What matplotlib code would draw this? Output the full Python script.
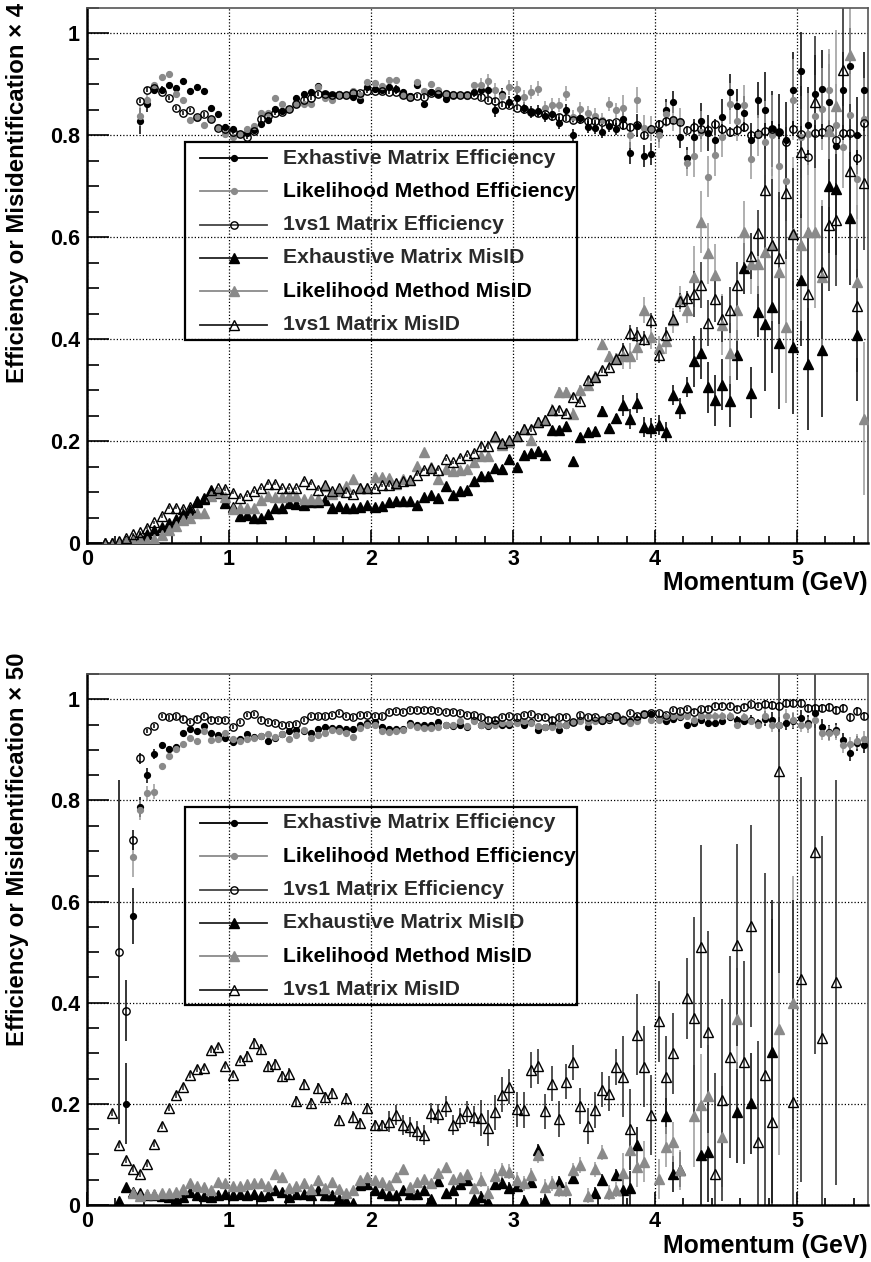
import numpy as np
import matplotlib
matplotlib.use("Agg")
import matplotlib.pyplot as plt
from matplotlib.lines import Line2D
from matplotlib.patches import Rectangle
from matplotlib.ticker import MultipleLocator, FuncFormatter

plt.rcParams['font.family'] = ['Liberation Sans', 'DejaVu Sans']
plt.rcParams['font.weight'] = 'bold'

nan = np.nan

# momentum bins, 0.05 GeV wide, 0 - 5.5 GeV
momentum = np.round(np.arange(110) * 0.05 + 0.025, 3)

# ---------------- top panel (misidentification x 4) ----------------
top_exh_eff = [nan] * 7 + [
    0.828, 0.861, 0.890, 0.890, 0.898, 0.893, 0.907, 0.887, 0.895, 0.887,
    0.854, 0.841, 0.816, 0.813, 0.803, 0.804, 0.810, 0.822, 0.830, 0.852,
    0.848, 0.852, 0.874, 0.882, 0.885, 0.896, 0.882, 0.880, 0.882, 0.879,
    0.875, 0.870, 0.894, 0.892, 0.890, 0.894, 0.892, 0.885, 0.877, 0.898,
    0.861, 0.885, 0.882, 0.872, 0.880, 0.879, 0.879, 0.885] + [
    0.890, 0.890, 0.849, 0.881, 0.866, 0.874, 0.854, 0.846, 0.848, 0.839,
    0.841, 0.824, 0.850, 0.800, 0.835, 0.816, 0.815, 0.807, 0.818, 0.813,
    0.833, 0.765, 0.819, 0.759, 0.764, 0.809, 0.850, 0.866, 0.797, 0.756,
    0.797, 0.828, 0.805, 0.791, 0.836, 0.885, 0.857, 0.843, 0.790, 0.870,
    0.849, 0.813, 0.807, 0.790, 0.889, 0.927, 0.820, 0.882, 0.892, 0.866,
    0.780, 0.889, 0.936, 0.800, 0.889]
top_lik_eff = [nan] * 7 + [
    0.839, 0.870, 0.898, 0.915, 0.920, 0.882, 0.870, 0.831, 0.835, 0.820,
    0.833, 0.816, 0.803, 0.797, 0.803, 0.813, 0.818, 0.844, 0.844, 0.874,
    0.861, 0.852, 0.861, 0.861, 0.861, 0.894, 0.874, 0.869, 0.882, 0.880,
    0.887, 0.879, 0.905, 0.903, 0.896, 0.908, 0.908, 0.879, 0.874, 0.905,
    0.887, 0.900, 0.889, 0.883, 0.882, 0.879, 0.877, 0.898] + [
    0.898, 0.907, 0.889, 0.877, 0.894, 0.892, 0.875, 0.885, 0.892, 0.854,
    0.859, 0.859, 0.882, 0.836, 0.852, 0.843, 0.839, 0.830, 0.861, 0.849,
    0.854, 0.800, 0.869, 0.815, 0.813, 0.800, 0.841, 0.833, 0.828, 0.746,
    0.759, 0.807, 0.719, 0.761, 0.797, 0.862, 0.828, 0.859, 0.754, 0.800,
    0.787, 0.800, 0.739, 0.711, 0.870, 0.797, 0.803, 0.838, 0.852, 0.889,
    0.820, 0.777, 0.840, 0.715, 0.833]
top_1v1_eff = [nan] * 7 + [
    0.868, 0.890, 0.893, 0.885, 0.874, 0.854, 0.844, 0.849, 0.836, 0.841,
    0.833, 0.815, 0.813, 0.807, 0.802, 0.797, 0.809, 0.833, 0.839, 0.844,
    0.846, 0.852, 0.861, 0.870, 0.874, 0.882, 0.882, 0.880, 0.880, 0.880,
    0.883, 0.883, 0.887, 0.887, 0.887, 0.885, 0.885, 0.880, 0.875, 0.878,
    0.875, 0.883, 0.882, 0.882, 0.880, 0.880, 0.880, 0.880] + [
    0.875, 0.870, 0.868, 0.860, 0.859, 0.854, 0.852, 0.846, 0.843, 0.841,
    0.839, 0.836, 0.834, 0.831, 0.833, 0.828, 0.828, 0.826, 0.824, 0.826,
    0.820, 0.816, 0.820, 0.800, 0.813, 0.823, 0.828, 0.830, 0.826, 0.811,
    0.817, 0.813, 0.810, 0.822, 0.813, 0.807, 0.811, 0.817, 0.800, 0.802,
    0.809, 0.813, 0.807, 0.787, 0.813, 0.803, 0.757, 0.805, 0.807, 0.813,
    0.791, 0.805, 0.805, 0.756, 0.824]

top_exh_mis = [nan] * 2 + [
    0.0, 0.0, 0.002, 0.004, 0.008, 0.012, 0.018, 0.025, 0.032, 0.040,
    0.048, 0.056, 0.065, 0.081, 0.087, 0.102, 0.098, 0.079, 0.070, 0.053,
    0.054, 0.050, 0.050, 0.056, 0.069, 0.069, 0.078, 0.076, 0.075, 0.080,
    0.081, 0.084] + [
    0.069, 0.072, 0.069, 0.069, 0.070, 0.075, 0.070, 0.072, 0.080, 0.083,
    0.083, 0.083, 0.074, 0.090, 0.094, 0.088, 0.111, 0.094, 0.103, 0.105,
    0.122] + [
    0.131, 0.131, 0.147, 0.146, 0.164, 0.149, 0.172, 0.177, 0.180, 0.173,
    0.221, 0.221, 0.230, 0.160, 0.208, 0.218, 0.219, 0.260, 0.226, 0.245,
    0.270, 0.243, 0.275, 0.228, 0.226, 0.232, 0.218, 0.291, 0.264, 0.306,
    0.357, 0.372, 0.306, 0.280, 0.311, 0.278, 0.369, 0.539, 0.295, 0.454,
    0.429, 0.464, 0.393, nan, 0.384, 0.516, 0.351, nan, 0.378, 0.700,
    0.695, nan, 0.637, 0.408, nan]
top_lik_mis = [nan] * 2 + [
    0.0, 0.0, 0.0, 0.001, 0.003, 0.005, 0.003, 0.008, 0.016, 0.026,
    0.034, 0.046, 0.050, 0.058, 0.059, 0.092, 0.100, 0.091, 0.066, 0.069,
    0.069, 0.069, 0.084, 0.092, 0.090, 0.091, 0.092, 0.092, 0.087, 0.086,
    0.087, 0.111] + [
    0.097, 0.103, 0.112, 0.125, 0.108, 0.108, 0.129, 0.129, 0.127, 0.116,
    0.126, 0.123, 0.151, 0.178, 0.149, 0.125, 0.146, 0.141, 0.143, 0.146,
    0.158, 0.171, 0.171, 0.208, 0.193, 0.199, 0.210, 0.224, 0.203, 0.237,
    0.242] + [
    0.262, 0.296, 0.296, 0.254, 0.300, 0.310, 0.328, 0.391, 0.367, 0.363,
    0.367, 0.367, 0.385, 0.457, 0.405, 0.382, 0.396, 0.437, 0.479, 0.457,
    0.523, 0.630, 0.569, 0.526, 0.428, 0.372, 0.457, 0.611, 0.548, 0.548,
    0.572, 0.585, 0.532, 0.424, 0.608, 0.585, 0.611, 0.611, 0.523, 0.809,
    0.857, nan, 0.957, 0.513, 0.244]
top_1v1_mis = [nan] * 2 + [
    0.0, 0.0, 0.004, 0.010, 0.017, 0.021, 0.030, 0.041, 0.053, 0.069,
    0.069, 0.067, 0.071, 0.082, 0.089, 0.104, 0.107, 0.106, 0.099, 0.089,
    0.094, 0.102, 0.107, 0.116, 0.116, 0.107, 0.107, 0.107, 0.122, 0.116,
    0.105, 0.114] + [
    0.103, 0.108, 0.100, 0.097, 0.107, 0.107, 0.107, 0.113, 0.113, 0.118,
    0.121, 0.123, 0.134, 0.144, 0.147, 0.144, 0.164, 0.158, 0.167, 0.172,
    0.177, 0.191, 0.190, 0.210, 0.197, 0.203, 0.210, 0.224, 0.223, 0.237,
    0.242] + [
    0.262, 0.262, 0.256, 0.287, 0.278, 0.319, 0.326, 0.339, 0.345, 0.361,
    0.378, 0.413, 0.409, 0.401, 0.437, 0.369, 0.408, 0.440, 0.475, 0.480,
    0.488, 0.506, 0.431, 0.479, 0.440, 0.457, 0.506, nan, 0.564, 0.608,
    0.693, 0.585, 0.559, 0.687, 0.606, 0.767, 0.488, 0.866, 0.531, 0.624,
    0.634, 0.928, 0.731, 0.466, 0.706]

top_exh_eff_err = [0.006] * 7 + [0.025, 0.015] + [0.006] * 46 + [0.012] * 20 + [0.022] * 10 + [0.035] * 10 + [0.075] * 15
top_lik_eff_err = [0.006] * 7 + [0.02, 0.012] + [0.006] * 46 + [0.014] * 20 + [0.025] * 10 + [0.04] * 10 + [0.08] * 15
top_1v1_eff_err = [0.004] * 55 + [0.005] * 20 + [0.007] * 10 + [0.01] * 10 + [0.015] * 15
top_exh_mis_err = [0.004] * 55 + [0.008] * 20 + [0.02] * 10 + [0.05] * 10 + [0.13] * 15
top_lik_mis_err = [0.004] * 55 + [0.01] * 20 + [0.025] * 10 + [0.06] * 10 + [0.15] * 15
top_1v1_mis_err = [0.003] * 55 + [0.006] * 20 + [0.015] * 10 + [0.045] * 10 + [0.13] * 15

# ---------------- bottom panel (misidentification x 50) ----------------
bot_exh_eff = [nan] * 5 + [0.200, 0.571, 0.787] + [
    0.850, 0.892, 0.910, 0.902, 0.906, 0.933, 0.941, 0.937, 0.947, 0.933,
    0.929, 0.924, 0.916, 0.922, 0.931, 0.926, 0.927, 0.917, 0.924, 0.931,
    0.937, 0.939, 0.937, 0.934, 0.942, 0.946, 0.944, 0.944, 0.942, 0.942,
    0.949, 0.953, 0.955, 0.946, 0.942, 0.941, 0.942, 0.954, 0.950, 0.950,
    0.950, 0.955, 0.950, 0.947, 0.950, 0.946, 0.960] + [
    0.950, 0.948, 0.954, 0.950, 0.950, 0.955, 0.950, 0.955, 0.939, 0.946,
    0.950, 0.939, 0.950, 0.955, 0.960, 0.946, 0.959, 0.957, 0.959, 0.965,
    0.960, 0.957, 0.962, 0.970, 0.970, 0.962, 0.957, 0.962, 0.964, 0.950,
    0.954, 0.960, 0.954, 0.954, 0.957, 0.965, 0.959, 0.957, 0.960, 0.954,
    0.962, 0.960, 0.950, 0.954, 0.957, 0.963, 0.954, 0.972, 0.946, 0.935,
    0.939, 0.919, 0.893, 0.913, 0.909]
bot_lik_eff = [nan] * 6 + [0.688, 0.781] + [
    0.814, 0.817, 0.868, 0.888, 0.902, 0.911, 0.924, 0.917, 0.937, 0.919,
    0.921, 0.933, 0.922, 0.917, 0.922, 0.924, 0.927, 0.931, 0.926, 0.931,
    0.921, 0.929, 0.939, 0.924, 0.929, 0.934, 0.939, 0.937, 0.933, 0.926,
    0.944, 0.949, 0.949, 0.937, 0.935, 0.937, 0.939, 0.950, 0.946, 0.944,
    0.944, 0.946, 0.950, 0.950, 0.957, 0.948, 0.957] + [
    0.949, 0.949, 0.949, 0.954, 0.954, 0.954, 0.957, 0.954, 0.947, 0.946,
    0.946, 0.950, 0.950, 0.955, 0.957, 0.955, 0.957, 0.959, 0.962, 0.966,
    0.962, 0.954, 0.957, 0.968, 0.960, 0.960, 0.964, 0.966, 0.966, 0.966,
    0.959, 0.966, 0.966, 0.966, 0.966, 0.967, 0.950, 0.964, 0.957, 0.950,
    0.966, 0.950, 0.950, 0.966, 0.959, 0.950, 0.949, 0.959, 0.934, 0.933,
    0.935, 0.909, 0.911, 0.917, 0.922]
bot_1v1_eff = [nan] * 4 + [0.500, 0.384, 0.721, 0.883] + [
    0.937, 0.947, 0.967, 0.964, 0.966, 0.962, 0.955, 0.962, 0.967, 0.960,
    0.959, 0.959, 0.946, 0.955, 0.968, 0.970, 0.960, 0.955, 0.954, 0.949,
    0.949, 0.952, 0.959, 0.967, 0.966, 0.966, 0.968, 0.972, 0.967, 0.964,
    0.968, 0.968, 0.967, 0.966, 0.975, 0.977, 0.975, 0.978, 0.978, 0.978,
    0.978, 0.977, 0.975, 0.974, 0.972, 0.968, 0.968] + [
    0.964, 0.960, 0.960, 0.965, 0.967, 0.964, 0.968, 0.970, 0.965, 0.965,
    0.960, 0.964, 0.965, 0.955, 0.968, 0.965, 0.965, 0.960, 0.965, 0.967,
    0.960, 0.972, 0.967, 0.970, 0.972, 0.972, 0.968, 0.979, 0.977, 0.980,
    0.975, 0.980, 0.981, 0.987, 0.987, 0.987, 0.981, 0.985, 0.990, 0.987,
    0.990, 0.988, 0.987, 0.992, 0.993, 0.992, 0.983, 0.983, 0.983, 0.985,
    0.979, 0.983, 0.964, 0.977, 0.967]

bot_exh_mis = [nan] * 4 + [
    0.008, 0.036, 0.025, 0.023, 0.020, 0.020, 0.018, 0.015, 0.012, 0.015,
    0.025, 0.019, 0.018, 0.015, 0.019, 0.022, 0.019, 0.022, 0.020, 0.021,
    0.018, 0.019, 0.029, 0.025, 0.015, 0.021, 0.021, 0.020, 0.029, 0.019,
    0.020, 0.012, 0.008, 0.004, 0.040, 0.042, 0.029, 0.023, 0.020, 0.019,
    0.029, 0.022, 0.022, 0.029, 0.012, 0.048, 0.023, 0.029, 0.042, 0.049,
    0.011] + [
    0.015, 0.005, 0.041, 0.043, 0.033, 0.038, 0.008, 0.045, 0.109, 0.010,
    nan, 0.046, nan, 0.053, nan, nan, 0.023, 0.050, nan, 0.059,
    0.030, 0.033, 0.119, nan, nan, nan, 0.176, 0.061, 0.070, nan,
    nan, 0.099, 0.105, nan, nan, nan, 0.183, nan, 0.201, nan,
    nan, 0.303, nan, nan, nan, nan, nan, nan, nan, nan,
    nan, nan, nan, nan, nan]
bot_lik_mis = [nan] * 6 + [
    0.023, 0.018, 0.021, 0.022, 0.023, 0.023, 0.026, 0.031, 0.043, 0.038,
    0.036, 0.029, 0.045, 0.044, 0.038, 0.038, 0.041, 0.044, 0.043, 0.038,
    0.061, 0.055, 0.034, 0.038, 0.043, 0.032, 0.049, 0.034, 0.045, 0.032,
    0.024, 0.029, 0.050, 0.055, 0.049, 0.046, 0.040, 0.055, 0.072, 0.036,
    0.046, 0.052, 0.043, 0.063, 0.076, 0.052, 0.055, 0.061, 0.034] + [
    0.050, 0.023, 0.057, 0.069, 0.066, 0.050, 0.043, 0.059, 0.099, 0.036,
    0.043, 0.030, 0.030, 0.069, 0.079, 0.018, 0.071, 0.103, 0.024, 0.030,
    0.063, 0.109, 0.076, 0.086, nan, 0.051, 0.115, 0.125, 0.069, nan,
    0.176, 0.198, 0.216, nan, 0.135, nan, 0.368, nan, nan, nan,
    nan, nan, 0.348, nan, 0.400, nan, nan, nan, nan, nan,
    nan, nan, nan, nan, nan]
bot_1v1_mis = [nan] * 3 + [
    0.182, 0.119, 0.089, 0.072, 0.062, 0.082, 0.121, 0.156, 0.192, 0.218,
    0.234, 0.257, 0.269, 0.271, 0.307, 0.312, 0.275, 0.257, 0.287, 0.295,
    0.320, 0.308, 0.275, 0.279, 0.255, 0.260, 0.206, 0.239, 0.202, 0.231,
    0.214, 0.222, 0.168, 0.211, 0.175, 0.163, 0.192, 0.158, 0.158, 0.165,
    0.178, 0.158, 0.155, 0.147, 0.139, 0.182, 0.180, 0.195, 0.158, 0.172,
    0.185, 0.175] + [
    0.172, 0.152, 0.183, 0.218, 0.234, 0.189, 0.188, 0.267, 0.274, 0.185,
    0.240, 0.170, 0.244, 0.282, 0.196, 0.156, 0.188, 0.228, 0.220, 0.273,
    0.254, 0.150, 0.337, 0.273, 0.178, 0.363, 0.254, 0.300, nan, 0.409,
    0.370, 0.511, 0.342, 0.062, 0.207, 0.292, 0.514, 0.282, 0.552, 0.124,
    0.257, 0.165, 0.858, nan, 0.203, 0.446, nan, 0.698, 0.330, nan,
    0.440, nan, nan, nan, nan]

bot_exh_eff_err = [0.005] * 5 + [0.08, 0.055, 0.02, 0.015, 0.01] + [0.005] * 65 + [0.006] * 10 + [0.008] * 10 + [0.015] * 15
bot_lik_eff_err = [0.005] * 6 + [0.04, 0.02, 0.015, 0.015] + [0.005] * 65 + [0.006] * 10 + [0.008] * 10 + [0.015] * 15
bot_1v1_eff_err = [0.004] * 4 + [0.34, 0.06, 0.02, 0.01] + [0.004] * 77 + [0.005] * 10 + [0.008] * 15
bot_exh_mis_err = [0.003] * 55 + [0.012] * 20 + [0.035] * 10 + [0.1] * 10 + [0.3] * 15
bot_lik_mis_err = [0.004] * 55 + [0.015] * 20 + [0.04] * 10 + [0.1] * 10 + [0.25] * 15
bot_1v1_mis_err = [0.006] * 22 + [0.01] * 20 + [0.02] * 13 + [0.035] * 20 + [0.08] * 10 + [0.2] * 10 + [0.4] * 15

legend_labels = ["Exhastive Matrix Efficiency", "Likelihood Method Efficiency",
                 "1vs1 Matrix Efficiency", "Exhaustive Matrix MisID",
                 "Likelihood Method MisID", "1vs1 Matrix MisID"]

GRAY = '#8a8a8a'
styles = [
    dict(marker='o', ms=4.2, mfc='black', mec='black', color='black', ecolor='black'),
    dict(marker='o', ms=4.2, mfc=GRAY, mec=GRAY, color=GRAY, ecolor='#9a9a9a'),
    dict(marker='o', ms=5.3, mfc='none', mec='black', color='#444444', ecolor='black'),
    dict(marker='^', ms=7.0, mfc='black', mec='black', color='#222222', ecolor='black'),
    dict(marker='^', ms=7.0, mfc=GRAY, mec=GRAY, color=GRAY, ecolor='#9a9a9a'),
    dict(marker='^', ms=7.0, mfc='none', mec='black', color='#222222', ecolor='#222222'),
]

W, H = 871, 1262
fig = plt.figure(figsize=(W / 100, H / 100), dpi=100)


def fx(px):
    return px / W


def fy(py):
    return 1 - py / H


def make_panel(top_px, bottom_px, series, errs, ylabel, ylabel_top, xlabel_y, legend_top):
    ax = fig.add_axes([fx(87), fy(bottom_px), fx(868) - fx(87), (bottom_px - top_px) / H])
    ax.set_xlim(0, 5.5)
    ax.set_ylim(0, 1.05)
    for vals, err, st in zip(series, errs, styles):
        assert len(vals) == 110 and len(err) == 110
        v = np.array(vals, dtype=float)
        e = np.array(err, dtype=float)
        ok = ~np.isnan(v)
        ax.errorbar(momentum[ok], v[ok], yerr=e[ok], fmt='none', ecolor=st['ecolor'],
                    elinewidth=1.1, capsize=0, zorder=2)
        ax.plot(momentum[ok], v[ok], ls='none', marker=st['marker'], ms=st['ms'],
                mfc=st['mfc'], mec=st['mec'], mew=1.0, zorder=3)
    ax.xaxis.set_major_locator(MultipleLocator(1))
    ax.xaxis.set_minor_locator(MultipleLocator(0.2))
    ax.yaxis.set_major_locator(MultipleLocator(0.2))
    ax.yaxis.set_minor_locator(MultipleLocator(0.05))
    fmt = FuncFormatter(lambda t, p: f"{t:g}")
    ax.xaxis.set_major_formatter(fmt)
    ax.yaxis.set_major_formatter(fmt)
    ax.tick_params(axis='x', which='major', direction='in', length=9.5, width=1.2, labelsize=15.5, pad=4)
    ax.tick_params(axis='x', which='minor', direction='in', length=5, width=1.2)
    ax.tick_params(axis='y', which='major', direction='in', length=16, width=1.2, labelsize=15.5, pad=5)
    ax.tick_params(axis='y', which='minor', direction='in', length=8.5, width=1.2)
    ax.tick_params(top=False, right=False, which='both')
    ax.grid(True, which='major', color='black', ls=(0, (1, 1.6)), lw=0.9)
    ax.spines['left'].set_linewidth(1.8)
    ax.spines['bottom'].set_linewidth(1.8)
    ax.spines['top'].set_linewidth(1.2)
    ax.spines['top'].set_color('#555555')
    ax.spines['right'].set_linewidth(1.2)
    ax.spines['right'].set_color('#555555')
    fig.text(fx(18), fy(ylabel_top), ylabel, rotation=90, ha='center', va='top',
             fontsize=17.3, fontweight='bold')
    fig.text(fx(868), fy(xlabel_y), "Momentum (GeV)", ha='right', va='center',
             fontsize=17.8, fontweight='bold')

    # legend box, drawn by hand to mimic the ROOT TLegend
    box_h = 198
    fig.add_artist(Rectangle((fx(185), fy(legend_top + box_h)), fx(577) - fx(185), box_h / H,
                             transform=fig.transFigure, fill=False, lw=1.6, ec='black'))
    for k, (lab, st) in enumerate(zip(legend_labels, styles)):
        yy = fy(legend_top + 16 + 33.3 * k)
        fig.add_artist(Line2D([fx(200), fx(267)], [yy, yy], transform=fig.transFigure,
                              color=st['color'], lw=1.3))
        fig.add_artist(Line2D([fx(234)], [yy], transform=fig.transFigure, ls='none',
                              marker=st['marker'], ms=st['ms'], mfc=st['mfc'],
                              mec=st['mec'], mew=1.0))
        col = 'black' if 'Likelihood' in lab else '#2a2a2a'
        fig.text(fx(283), yy, lab, ha='left', va='center', fontsize=15.2,
                 fontweight='bold', color=col)
    return ax


make_panel(8, 543,
           [top_exh_eff, top_lik_eff, top_1v1_eff, top_exh_mis, top_lik_mis, top_1v1_mis],
           [top_exh_eff_err, top_lik_eff_err, top_1v1_eff_err,
            top_exh_mis_err, top_lik_mis_err, top_1v1_mis_err],
           "Efficiency or Misidentification \u00d7 4", 3, 583, 142)
make_panel(674, 1205,
           [bot_exh_eff, bot_lik_eff, bot_1v1_eff, bot_exh_mis, bot_lik_mis, bot_1v1_mis],
           [bot_exh_eff_err, bot_lik_eff_err, bot_1v1_eff_err,
            bot_exh_mis_err, bot_lik_mis_err, bot_1v1_mis_err],
           "Efficiency or Misidentification \u00d7 50", 653, 1246, 807)

fig.savefig("out.png", dpi=100)
